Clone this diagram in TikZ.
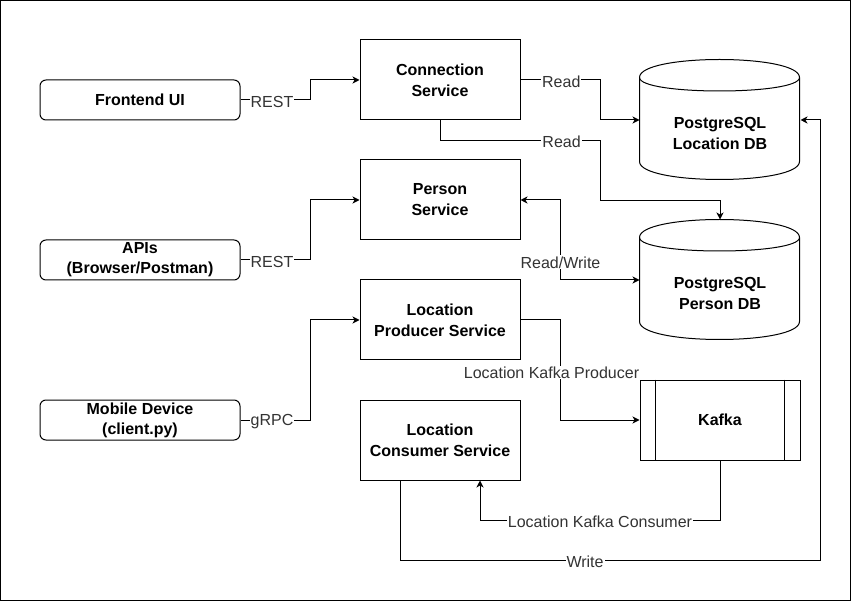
\documentclass[tikz,border=0pt]{standalone}
\usepackage{fontspec}
\setmainfont{Liberation Sans}
\usetikzlibrary{arrows.meta,calc}

\newcommand{\dbcyl}[1]{%
	\begin{scope}[shift={(#1.north west)}]
		\draw (0,18) .. controls (0,-6) and (160,-6) .. (160,18) -- (160,102) .. controls (160,126) and (0,126) .. (0,102) -- cycle;
		\draw (0,18) .. controls (0,36) and (160,36) .. (160,18);
	\end{scope}}

\begin{document}
\begin{tikzpicture}[x=1pt,y=-1pt,line width=1pt,
		>={Stealth[length=7pt,width=7pt,inset=2pt]},
		svc/.style={draw,minimum width=160pt,minimum height=80pt,inner sep=0pt,align=center,font=\bfseries\fontsize{16}{21}\selectfont},
		client/.style={draw,rounded corners=6pt,minimum width=200pt,minimum height=40pt,inner sep=0pt,align=center,font=\bfseries\fontsize{16}{20}\selectfont},
		dbtext/.style={align=center,yshift=-13pt,font=\bfseries\fontsize{16}{21}\selectfont},
		db/.style={minimum width=160pt,minimum height=120pt,inner sep=0pt,label={[dbtext]center:#1}},
		lbl/.style={fill=white,inner sep=1pt,yshift=-1.5pt,text=black!80,font=\fontsize{16}{19}\selectfont}]
			\useasboundingbox (0,0) rectangle (851,601);
			\draw (0.5,0.5) rectangle (850.5,600.5);
			\node[client] (front) at (140,100) {Frontend UI};
			\node[client] (apis) at (140,260) {APIs\\(Browser/Postman)};
			\node[client] (mobile) at (140,420) {Mobile Device\\(client.py)};
			\node[svc] (conn) at (440,80) {Connection\\Service};
			\node[svc] (pers) at (440,200) {Person\\Service};
			\node[svc] (prod) at (440,320) {Location\\Producer Service};
			\node[svc] (cons) at (440,440) {Location\\Consumer Service};
			\node[db={PostgreSQL\\Location DB}] (locdb) at (720,120) {};
			\node[db={PostgreSQL\\Person DB}] (persdb) at (720,280) {};
			\dbcyl{locdb}
			\dbcyl{persdb}
			\node[svc] (kafka) at (720,420) {Kafka};
			\draw ($(kafka.north west)+(16,0)$) -- ($(kafka.south west)+(16,0)$);
			\draw ($(kafka.north east)+(-16,0)$) -- ($(kafka.south east)+(-16,0)$);
			\draw[->] (front.east) -- node[lbl,pos=.45]{REST} ++(70,0) |- (conn.west);
			\draw[->] (apis.east) -- node[lbl,pos=.45]{REST} ++(70,0) |- (pers.west);
			\draw[->] (mobile.east) -- node[lbl,pos=.45]{gRPC} ++(70,0) |- (prod.west);
			\draw[->] (conn.east) -- node[lbl,pos=.51]{Read} ++(80,0) |- (locdb.west);
			\draw[->] (conn.south) |- node[lbl,pos=.88]{Read} ++(160,20) |- ++(120,60) -- (persdb.north);
			\draw[<->] (pers.east) -| node[lbl,pos=.88]{Read/Write} ++(40,80) -- (persdb.west);
			\draw[->] (prod.east) -| node[lbl,pos=.755,xshift=-9pt]{Location Kafka Producer} ++(40,100) -- (kafka.west);
			\draw[->] (kafka.south) |- node[lbl,pos=.75]{Location Kafka Consumer} ($(cons.south)+(40,40)$) -- ($(cons.south)+(40,0)$);
			\draw[->] ($(cons.south)+(-40,0)$) |- node[lbl,pos=.72]{Write} ($(locdb.east)+(20,440)$) |- (locdb.east);
		\end{tikzpicture}
\end{document}
